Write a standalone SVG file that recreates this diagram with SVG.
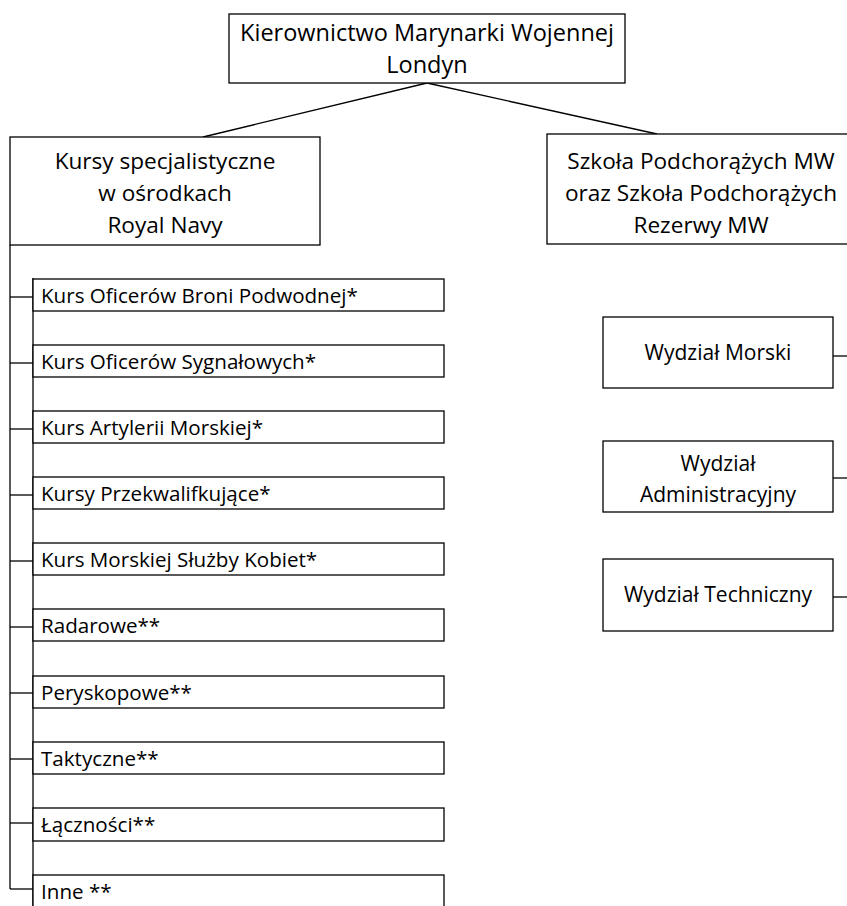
<svg xmlns="http://www.w3.org/2000/svg" width="847" height="906" viewBox="0 0 847 906">
<style>
.b{fill:#fff;stroke:#000;stroke-width:1.3}
.c{fill:none;stroke:#000;stroke-width:1.3}
text{font-family:"Open Sans","Liberation Sans",sans-serif;font-size:20.6px;fill:#000}
.m{text-anchor:middle}
.t{font-size:23.5px}
.h{font-size:22.6px}
.w{font-size:21px}
</style>
<rect width="847" height="906" fill="#fff"/>
<g id="connectors">
<line class="c" x1="427" y1="83" x2="203" y2="137"/>
<line class="c" x1="427" y1="83" x2="657" y2="134"/>
<line class="c" x1="10" y1="245" x2="10" y2="889"/>
<line class="c" x1="33" y1="278" x2="33" y2="906"/>
<line class="c" x1="10" y1="297" x2="33" y2="297"/>
<line class="c" x1="10" y1="363" x2="33" y2="363"/>
<line class="c" x1="10" y1="429" x2="33" y2="429"/>
<line class="c" x1="10" y1="495" x2="33" y2="495"/>
<line class="c" x1="10" y1="561" x2="33" y2="561"/>
<line class="c" x1="10" y1="627" x2="33" y2="627"/>
<line class="c" x1="10" y1="693" x2="33" y2="693"/>
<line class="c" x1="10" y1="759" x2="33" y2="759"/>
<line class="c" x1="10" y1="823" x2="33" y2="823"/>
<line class="c" x1="10" y1="889" x2="33" y2="889"/>
<line class="c" x1="833" y1="356" x2="847" y2="356"/>
<line class="c" x1="833" y1="478" x2="847" y2="478"/>
<line class="c" x1="833" y1="597" x2="847" y2="597"/>
</g>
<g id="kmw">
<rect class="b" x="229" y="14" width="396" height="69"/>
<text class="m t" x="427" y="41">Kierownictwo Marynarki Wojennej</text>
<text class="m t" x="427" y="73">Londyn</text>
</g>
<g id="kursy">
<rect class="b" x="10" y="137" width="310" height="108"/>
<text class="m h" x="165" y="169">Kursy specjalistyczne</text>
<text class="m h" x="165" y="201">w ośrodkach</text>
<text class="m h" x="165" y="233">Royal Navy</text>
</g>
<g id="szkola">
<rect class="b" x="547" y="134" width="320" height="110"/>
<text class="m h" x="701" y="169">Szkoła Podchorążych MW</text>
<text class="m h" x="701" y="201">oraz Szkoła Podchorążych</text>
<text class="m h" x="701" y="233">Rezerwy MW</text>
</g>
<g id="k1"><rect class="b" x="33" y="279" width="411" height="32"/><text x="41" y="303">Kurs Oficerów Broni Podwodnej*</text></g>
<g id="k2"><rect class="b" x="33" y="345" width="411" height="32"/><text x="41" y="369">Kurs Oficerów Sygnałowych*</text></g>
<g id="k3"><rect class="b" x="33" y="411" width="411" height="32"/><text x="41" y="435">Kurs Artylerii Morskiej*</text></g>
<g id="k4"><rect class="b" x="33" y="477" width="411" height="32"/><text x="41" y="501">Kursy Przekwalifkujące*</text></g>
<g id="k5"><rect class="b" x="33" y="543" width="411" height="32"/><text x="41" y="567">Kurs Morskiej Służby Kobiet*</text></g>
<g id="k6"><rect class="b" x="33" y="609" width="411" height="32"/><text x="41" y="633">Radarowe**</text></g>
<g id="k7"><rect class="b" x="33" y="676" width="411" height="32"/><text x="41" y="700">Peryskopowe**</text></g>
<g id="k8"><rect class="b" x="33" y="742" width="411" height="32"/><text x="41" y="766">Taktyczne**</text></g>
<g id="k9"><rect class="b" x="33" y="808" width="411" height="33"/><text x="41" y="832">Łączności**</text></g>
<g id="k10"><rect class="b" x="33" y="875" width="411" height="40"/><text x="41" y="899">Inne **</text></g>
<g id="morski"><rect class="b" x="603" y="317" width="230" height="71"/><text class="m w" x="718" y="360">Wydział Morski</text></g>
<g id="admin"><rect class="b" x="603" y="441" width="230" height="71"/><text class="m w" x="718" y="471">Wydział</text><text class="m w" x="718" y="502">Administracyjny</text></g>
<g id="tech"><rect class="b" x="603" y="559" width="230" height="72"/><text class="m w" x="718" y="602">Wydział Techniczny</text></g>
</svg>
